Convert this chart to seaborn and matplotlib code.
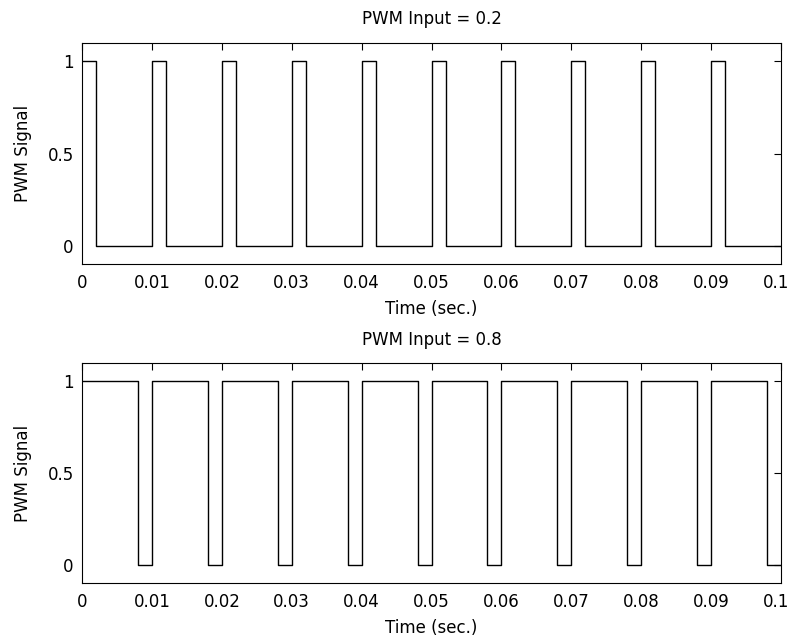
import matplotlib
matplotlib.use('Agg')
import matplotlib.pyplot as plt
import matplotlib.transforms as mtransforms
import seaborn as sns
import pandas as pd

# switching instants (sec.) and level after each instant
top_t = [0, 0.002, 0.01, 0.012, 0.02, 0.022, 0.03, 0.032, 0.04, 0.042,
         0.05, 0.052, 0.06, 0.062, 0.07, 0.072, 0.08, 0.082, 0.09, 0.092, 0.1]
top_v = [1, 0, 1, 0, 1, 0, 1, 0, 1, 0, 1, 0, 1, 0, 1, 0, 1, 0, 1, 0, 0]

bot_t = [0, 0.008, 0.01, 0.018, 0.02, 0.028, 0.03, 0.038, 0.04, 0.048,
         0.05, 0.058, 0.06, 0.068, 0.07, 0.078, 0.08, 0.088, 0.09, 0.098, 0.1]
bot_v = [1, 0, 1, 0, 1, 0, 1, 0, 1, 0, 1, 0, 1, 0, 1, 0, 1, 0, 1, 0, 0]

titles = ['PWM Input = 0.2', 'PWM Input = 0.8']
xticks = [0, 0.01, 0.02, 0.03, 0.04, 0.05, 0.06, 0.07, 0.08, 0.09, 0.1]
xticklabels = ['0', '0.01', '0.02', '0.03', '0.04', '0.05', '0.06', '0.07', '0.08', '0.09', '0.1']
yticks = [0, 0.5, 1]
yticklabels = ['0', '0.5', '1']

sns.set_style('white')
plt.rcParams['font.family'] = ['DejaVu Sans']
plt.rcParams['text.color'] = 'black'
plt.rcParams['axes.labelcolor'] = 'black'

fs = 12

fig = plt.figure(figsize=(7.91, 6.43), dpi=100)
ax1 = fig.add_axes([0.1037, 0.5894, 0.8837, 0.3437])
ax2 = fig.add_axes([0.1037, 0.0933, 0.8837, 0.3422])

for ax, t, v, title, tpad in [(ax1, top_t, top_v, titles[0], 14),
                              (ax2, bot_t, bot_v, titles[1], 13)]:
    df = pd.DataFrame({'t': t, 'v': v})
    sns.lineplot(data=df, x='t', y='v', ax=ax, estimator=None, sort=False,
                 drawstyle='steps-post', color='black', linewidth=1.0)
    ax.set_xlim(0, 0.1)
    ax.set_ylim(-0.1, 1.1)
    ax.set_xticks(xticks)
    ax.set_xticklabels(xticklabels)
    ax.set_yticks(yticks)
    ax.set_yticklabels(yticklabels)
    ax.tick_params(direction='in', length=5, width=0.8, colors='black',
                   top=True, right=True, labelsize=fs)
    ax.tick_params(axis='x', pad=7)
    ax.tick_params(axis='y', pad=6)
    for s in ax.spines.values():
        s.set_color('black')
        s.set_linewidth(0.8)
    ax.set_title(title, fontsize=fs, pad=tpad)
    ax.set_xlabel('Time (sec.)', fontsize=fs, labelpad=6)
    ax.set_ylabel('PWM Signal', fontsize=fs, labelpad=11)
    # nudge the last tick label so it stays inside the figure
    last = ax.get_xticklabels()[-1]
    last.set_transform(last.get_transform() +
                       mtransforms.ScaledTranslation(-0.05, 0, fig.dpi_scale_trans))

fig.savefig('out.png', dpi=100)
